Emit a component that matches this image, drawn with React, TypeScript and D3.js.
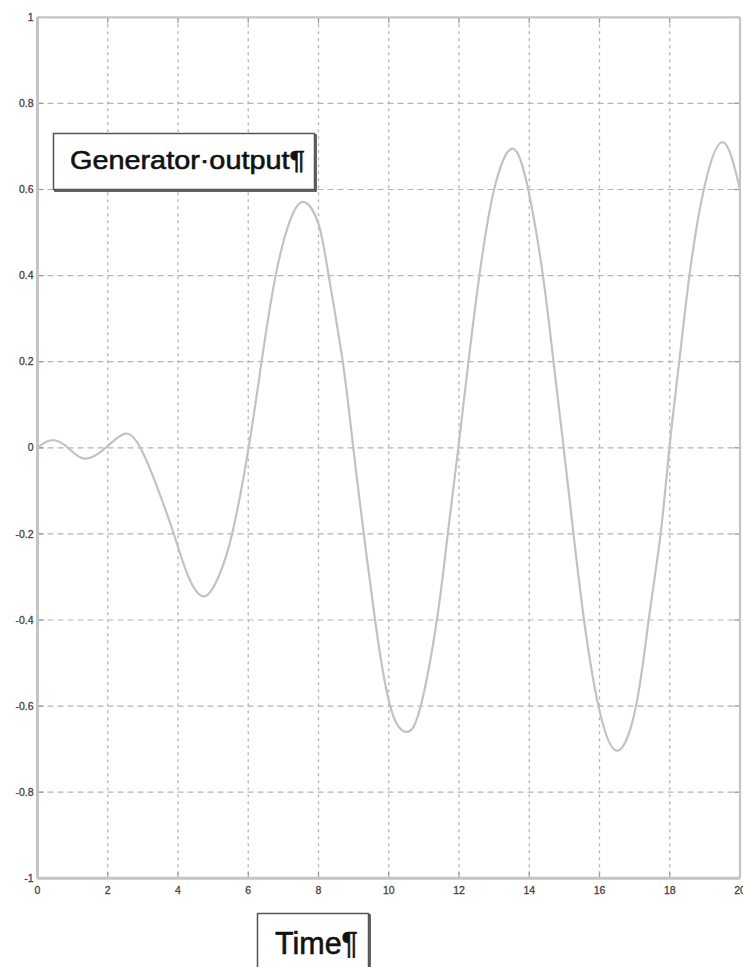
import React from "react";
import * as d3 from "d3";

const timeValues = [0, 0.36, 0.8, 1.32, 1.94, 2.5, 2.93, 3.4, 3.88, 4.3, 4.75, 5.15, 5.54, 6.01, 6.38, 6.78, 7.2, 7.59, 8.0, 8.29, 8.69, 8.99, 9.29, 9.61, 10.04, 10.51, 10.91, 11.37, 11.68, 11.98, 12.27, 12.58, 13.0, 13.52, 13.97, 14.39, 14.69, 14.98, 15.26, 15.56, 15.97, 16.5, 17.04, 17.4, 17.74, 17.99, 18.27, 18.56, 18.97, 19.51, 20.0];
const outputValues = [0, 0.017, 0.005, -0.025, 0, 0.033, 0, -0.09, -0.2, -0.3, -0.345, -0.3, -0.2, 0, 0.2, 0.4, 0.53, 0.571, 0.52, 0.4, 0.2, 0, -0.2, -0.4, -0.6, -0.66, -0.6, -0.4, -0.2, 0, 0.2, 0.4, 0.6, 0.695, 0.6, 0.4, 0.2, 0, -0.2, -0.4, -0.6, -0.704, -0.6, -0.4, -0.2, 0, 0.2, 0.4, 0.6, 0.71, 0.6];

const xTicks = [0, 2, 4, 6, 8, 10, 12, 14, 16, 18, 20];
const yTicks = [-1, -0.8, -0.6, -0.4, -0.2, 0, 0.2, 0.4, 0.6, 0.8, 1];
const titleText = "Generator·output¶";
const xLabelText = "Time¶";

const W = 743;
const H = 967;
const L = 37.5, R = 740, T = 17.3, B = 878.3;

export default function App() {
  const x = d3.scaleLinear().domain([0, 20]).range([L, R]);
  const y = d3.scaleLinear().domain([-1, 1]).range([B, T]);
  const pts = timeValues.map((t, i) => [t, outputValues[i]] as [number, number]);
  const line = d3
    .line<[number, number]>()
    .x((d) => x(d[0]))
    .y((d) => y(d[1]))
    .curve(d3.curveNatural);
  const fmt = (v: number) => (v === 0 ? "0" : String(Math.round(v * 10) / 10));
  const gridColor = "#b4b4b4";
  const frameColor = "#c4c4c4";
  const font = "Liberation Sans, Arial, sans-serif";
  return (
    <div style={{ position: "absolute", left: 0, top: 0 }}>
      <svg width={W} height={H} style={{ display: "block", background: "#fff" }}>
        {xTicks.slice(1, -1).map((t) => (
          <line key={"vx" + t} x1={x(t)} x2={x(t)} y1={T} y2={B} stroke={gridColor} strokeWidth={1.3} strokeDasharray="3,4" />
        ))}
        {yTicks.slice(1, -1).map((v) => (
          <line key={"hy" + v} x1={L} x2={R} y1={y(v)} y2={y(v)} stroke={gridColor} strokeWidth={1.2} strokeDasharray="6,4" />
        ))}
        {xTicks.map((t) => (
          <g key={"xt" + t}>
            <line x1={x(t)} x2={x(t)} y1={B} y2={B - 6} stroke="#999" strokeWidth={1.2} />
            <line x1={x(t)} x2={x(t)} y1={T} y2={T + 6} stroke="#999" strokeWidth={1.2} />
          </g>
        ))}
        {yTicks.map((v) => (
          <g key={"yt" + v}>
            <line x1={L} x2={L + 6} y1={y(v)} y2={y(v)} stroke="#999" strokeWidth={1.2} />
            <line x1={R} x2={R - 6} y1={y(v)} y2={y(v)} stroke="#999" strokeWidth={1.2} />
          </g>
        ))}
        <path d={line(pts) || ""} fill="none" stroke="#c2c2c2" strokeWidth={2.2} />
        <line x1={L} x2={R} y1={T} y2={T} stroke={frameColor} strokeWidth={2.2} />
        <line x1={R} x2={R} y1={T} y2={B} stroke={frameColor} strokeWidth={2.2} />
        <line x1={L} x2={R} y1={B} y2={B} stroke={frameColor} strokeWidth={3} />
        <line x1={L} x2={L} y1={T} y2={B} stroke={frameColor} strokeWidth={3} />
        {yTicks.map((v) => (
          <text key={"yl" + v} x={L - 4} y={y(v)} dy="0.35em" textAnchor="end" fontFamily={font} fontSize={10.5} fill="#444" stroke="#444" strokeWidth={0.3}>
            {fmt(v)}
          </text>
        ))}
        {xTicks.map((t) => (
          <text key={"xl" + t} x={x(t)} y={B + 16} textAnchor="middle" fontFamily={font} fontSize={10.5} fill="#444" stroke="#444" strokeWidth={0.3}>
            {fmt(t)}
          </text>
        ))}
        <rect x={55} y={135} width={261} height={56} fill="none" stroke="#333" strokeWidth={1.5} />
        <rect x={53.5} y={133.5} width={261} height={56} fill="#fff" stroke="#555" strokeWidth={1.5} />
        <text x={70} y={169} fontFamily={font} fontSize={26} fill="#111" stroke="#111" strokeWidth={0.6} textLength={235} lengthAdjust="spacingAndGlyphs">
          {titleText}
        </text>
        <rect x={259} y={915} width={111} height={70} fill="none" stroke="#333" strokeWidth={1.5} />
        <rect x={257.5} y={913.5} width={111} height={70} fill="#fff" stroke="#555" strokeWidth={1.5} />
        <text x={275} y={954} fontFamily={font} fontSize={31} fill="#111" stroke="#111" strokeWidth={0.6} textLength={83} lengthAdjust="spacingAndGlyphs">
          {xLabelText}
        </text>
      </svg>
    </div>
  );
}
